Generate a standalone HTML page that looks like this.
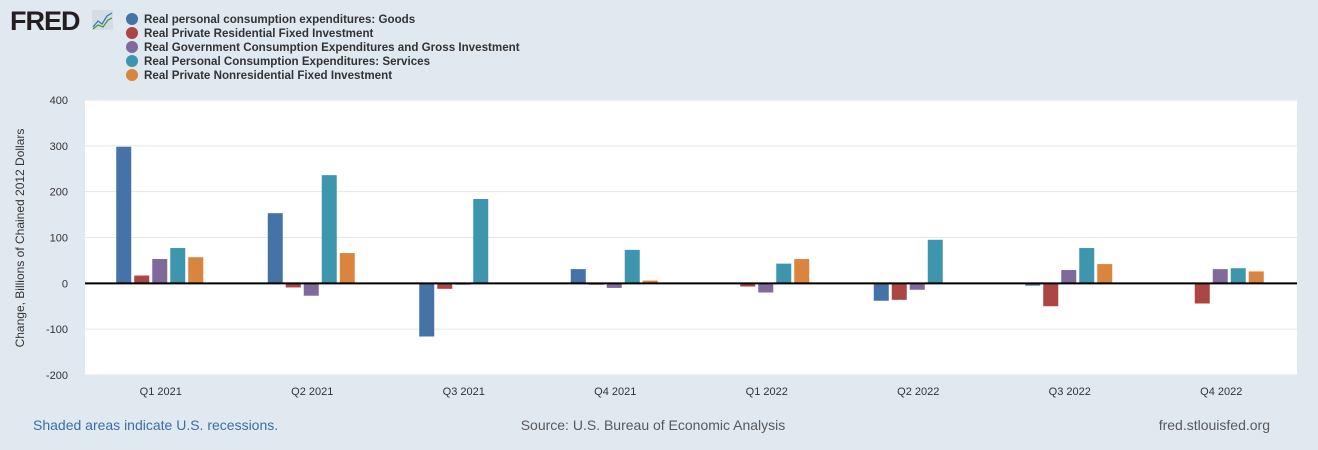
<!DOCTYPE html>
<html><head><meta charset="utf-8"><style>
body{margin:0;background:#e1e9f0;width:1318px;height:450px;overflow:hidden;font-family:"Liberation Sans",sans-serif}
svg{position:absolute;left:0;top:0}
</style></head><body>
<svg id="c" width="1318" height="450">
<text x="10" y="30" font-size="27" font-weight="bold" fill="#231f20" letter-spacing="-1">FRED</text>
<g><rect x="92" y="10" width="21" height="20" fill="#d5dde4"/><polyline points="93,27 98,21 102,24 107,16 112,13" stroke="#3d7ab3" fill="none" stroke-width="1.3"/><polyline points="93,29 98,25 103,27 108,20 112,18" stroke="#4a9a3a" fill="none" stroke-width="1.3"/></g>
<rect x="85" y="100" width="1212" height="275" fill="#fff"/>
<g id="grid"></g><g id="bars"></g><g id="labels"></g><g id="legend"></g>
<text transform="translate(24,238) rotate(-90)" text-anchor="middle" font-size="12" fill="#333">Change, Billions of Chained 2012 Dollars</text>
<text x="33" y="430" font-size="14" fill="#3e6ba8">Shaded areas indicate U.S. recessions.</text>
<text x="653" y="430" font-size="14" fill="#595959" text-anchor="middle">Source: U.S. Bureau of Economic Analysis</text>
<text x="1270" y="430" font-size="14" fill="#595959" text-anchor="end">fred.stlouisfed.org</text>
</svg>
<script>
const categories=["Q1 2021","Q2 2021","Q3 2021","Q4 2021","Q1 2022","Q2 2022","Q3 2022","Q4 2022"];
const seriesNames=["Real personal consumption expenditures: Goods","Real Private Residential Fixed Investment","Real Government Consumption Expenditures and Gross Investment","Real Personal Consumption Expenditures: Services","Real Private Nonresidential Fixed Investment"];
const goods=[298,153,-116,31,0,-38,-5,0];
const residential=[17,-9,-12,-3,-7,-36,-50,-44];
const government=[53,-27,-3,-10,-20,-14,29,31];
const services=[77,236,184,73,43,95,77,33];
const nonresidential=[57,66,1,6,53,0,42,26];
const yTicks=[400,300,200,100,0,-100,-200];
const colors=["#4572a7","#aa4643","#80699b","#3d96ae","#db843d"];
const series=[goods,residential,government,services,nonresidential];
const NS="http://www.w3.org/2000/svg";
const L=85,R=1297,T=100,B=375,ymin=-200,ymax=400;
const y=v=>T+(ymax-v)/(ymax-ymin)*(B-T);
const gw=(R-L)/categories.length;
const xc=i=>L+gw*(i+0.5);
function mk(tag,attrs,parent){const e=document.createElementNS(NS,tag);for(const k in attrs)e.setAttribute(k,attrs[k]);document.getElementById(parent).appendChild(e);return e;}
yTicks.forEach(t=>{
 if(t!==0){const l=mk('line',{x1:L,x2:R,y1:y(t),y2:y(t),stroke:'#e6e6e6'},'grid');
 
 }
 const tx=mk('text',{x:68,y:y(t)+4,'text-anchor':'end','font-size':11,fill:'#333'},'labels');tx.textContent=t;
 
 
});
categories.forEach((c,i)=>{
 const tx=mk('text',{x:xc(i),y:395,'text-anchor':'middle','font-size':11,fill:'#333'},'labels');tx.textContent=c;
 
 
 series.forEach((s,j)=>{
  const v=s[i];const bx=xc(i)-44.5+j*18;
  const r=mk('rect',{x:bx,y:Math.min(y(v),y(0)),width:15,height:Math.abs(y(v)-y(0)),fill:colors[j]},'bars');
  
  
 });
});
const z=mk('line',{x1:L,x2:R,y1:y(0),y2:y(0),stroke:'#000','stroke-width':2},'bars');


seriesNames.forEach((n,j)=>{
 const cy=19+j*14;
 const c=mk('circle',{cx:132,cy:cy,r:6,fill:colors[j]},'legend');
 
 
 const t=mk('text',{x:144,y:cy+4,'font-size':11.6,'font-weight':'bold',fill:'#333'},'legend');t.textContent=n;
 
 
});
</script>
</body></html>
